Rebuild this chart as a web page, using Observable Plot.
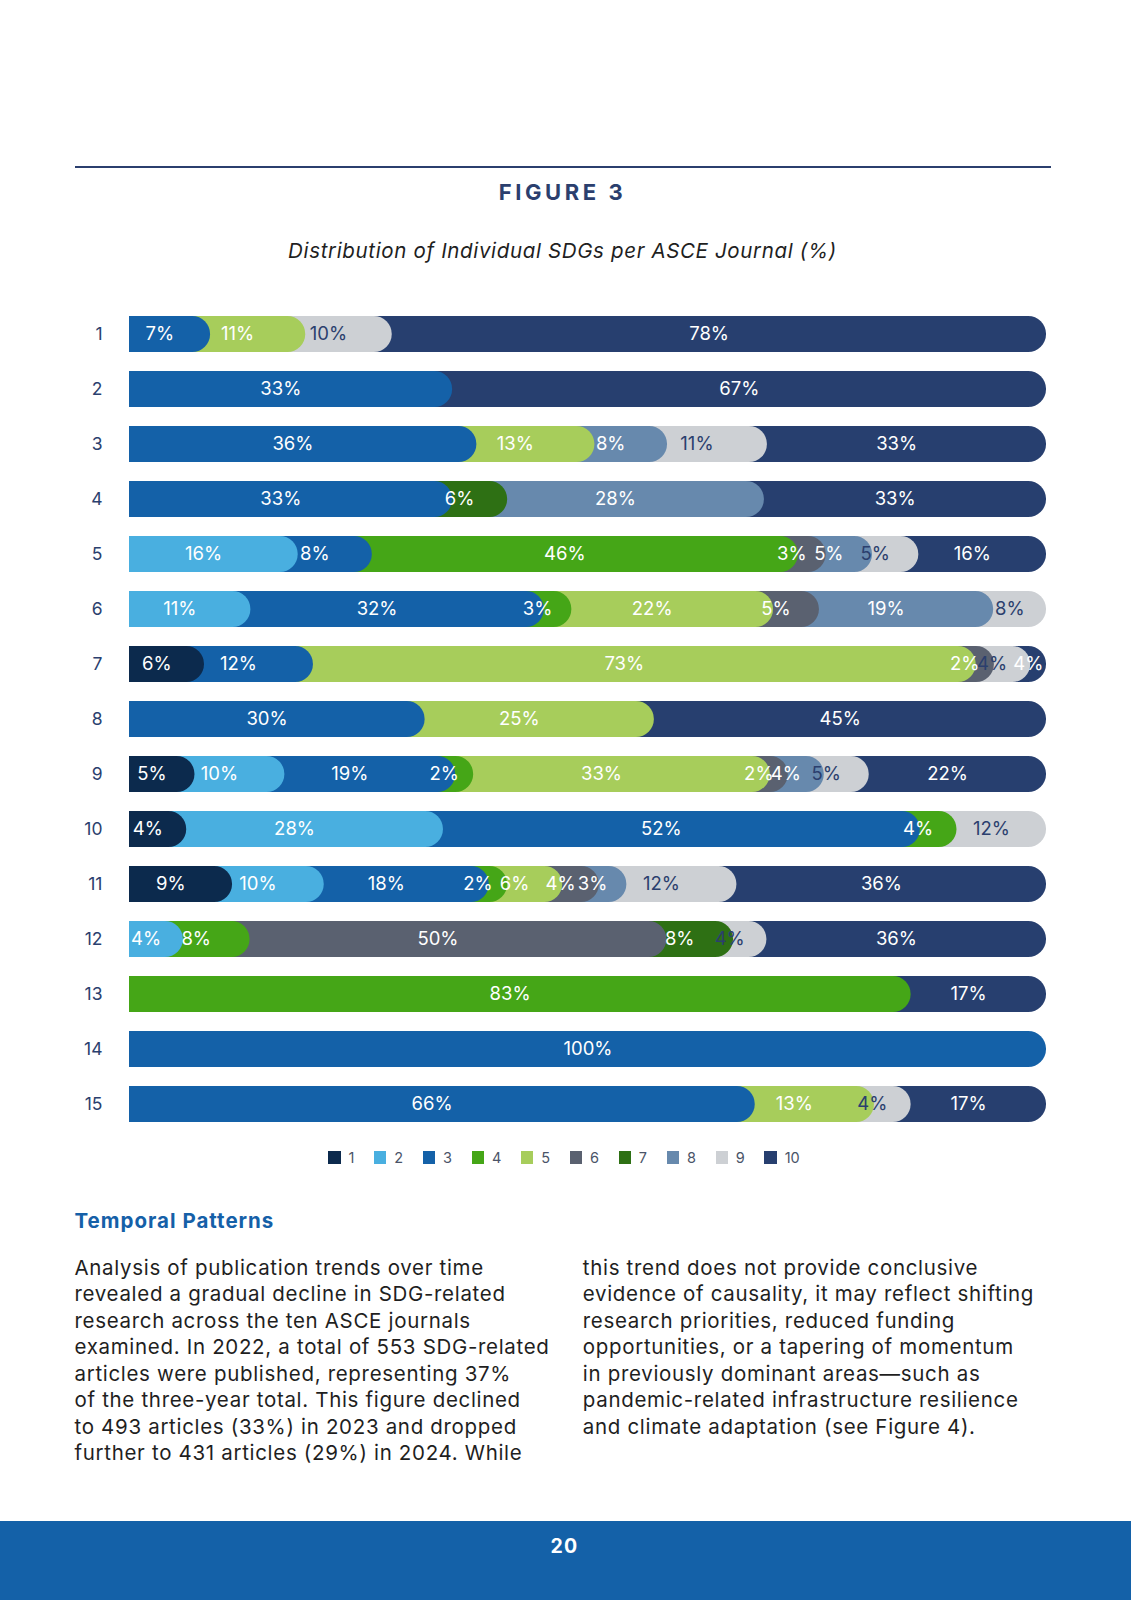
<!DOCTYPE html>
<html>
<head>
<meta charset="utf-8">
<script src="https://cdn.jsdelivr.net/npm/d3@7"></script>
<script src="https://cdn.jsdelivr.net/npm/@observablehq/plot@0.6"></script>
<style>
  html, body { margin: 0; padding: 0; background: #fff; }
  body { width: 1131px; height: 1600px; position: relative; overflow: hidden; font-family: Inter, "Noto Sans", sans-serif; }
  .abs { position: absolute; }
  #rule { left: 74.5px; top: 165.5px; width: 976px; height: 2px; background: #2b3f6e; }
  #fig { left: 74.5px; width: 976px; top: 180px; text-align: center; font-weight: 700; font-size: 22px; letter-spacing: 3.6px; color: #2b3f6e; line-height: 24px; }
  #sub { left: 74.5px; width: 976px; top: 238px; text-align: center; font-style: italic; font-size: 20.5px; letter-spacing: 0.65px; color: #1f1f1f; line-height: 26px; }
  #chart { left: 0; top: 296px; }
  #legend { left: 76px; width: 976px; top: 1148px; display: flex; justify-content: center; gap: 19.6px; font-size: 14.5px; color: #4a5468; line-height: 19px; }
  #legend .item { display: flex; align-items: center; gap: 8px; }
  #legend .sw { width: 12.3px; height: 12.3px; display: inline-block; }
  #head2 { left: 74.5px; top: 1207.8px; font-weight: 700; font-size: 20.5px; letter-spacing: 1px; color: #1560a8; line-height: 26px; }
  .col { top: 1254.5px; font-size: 20.5px; letter-spacing: 0.68px; line-height: 26.5px; color: #1f1f1f; white-space: nowrap; }
  #colL { left: 74.5px; }
  #colR { left: 582.8px; }
  #footer { left: 0; top: 1521px; width: 1131px; height: 79px; background: #1461a8; }
  #pnum { left: 0; width: 1129px; top: 1534.4px; text-align: center; font-weight: 700; font-size: 19.5px; color: #fff; line-height: 24px; letter-spacing: 1.2px; }
</style>
</head>
<body>
<div id="rule" class="abs"></div>
<div id="fig" class="abs">FIGURE 3</div>
<div id="sub" class="abs">Distribution of Individual SDGs per ASCE Journal (%)</div>
<div id="chart" class="abs"></div>
<div id="legend" class="abs"></div>
<div id="head2" class="abs">Temporal Patterns</div>
<div id="colL" class="abs col">Analysis of publication trends over time<br>revealed a gradual decline in SDG-related<br>research across the ten ASCE journals<br>examined. In 2022, a total of 553 SDG-related<br>articles were published, representing 37%<br>of the three-year total. This figure declined<br>to 493 articles (33%) in 2023 and dropped<br>further to 431 articles (29%) in 2024. While</div>
<div id="colR" class="abs col">this trend does not provide conclusive<br>evidence of causality, it may reflect shifting<br>research priorities, reduced funding<br>opportunities, or a tapering of momentum<br>in previously dominant areas—such as<br>pandemic-related infrastructure resilience<br>and climate adaptation (see Figure 4).</div>
<div id="footer" class="abs"></div>
<div id="pnum" class="abs">20</div>
<script>
// Journals (rows) and SDG categories (series)
const journals = ["1","2","3","4","5","6","7","8","9","10","11","12","13","14","15"];
const sdgs = ["1","2","3","4","5","6","7","8","9","10"];
const sdgColors = ["#0c2a4d","#49afe0","#1461a8","#45a617","#a7cd5b","#5a6170","#2e7014","#6789ad","#cdd0d4","#273f6f"];

// Percent share of each SDG per journal (0 = not present), journals 1..15
const sdg1  = [0, 0, 0, 0, 0, 0, 6, 0, 5, 4, 9, 0, 0, 0, 0];
const sdg2  = [0, 0, 0, 0,16,11, 0, 0,10,28,10, 4, 0, 0, 0];
const sdg3  = [7,33,36,33, 8,32,12,30,19,52,18, 0, 0,100,66];
const sdg4  = [0, 0, 0, 0,46, 3, 0, 0, 2, 4, 2, 8,83, 0, 0];
const sdg5  = [11,0,13, 0, 0,22,73,25,33, 0, 6, 0, 0, 0,13];
const sdg6  = [0, 0, 0, 0, 3, 5, 2, 0, 2, 0, 4,50, 0, 0, 0];
const sdg7  = [0, 0, 0, 6, 0, 0, 0, 0, 0, 0, 0, 8, 0, 0, 0];
const sdg8  = [0, 0, 8,28, 5,19, 0, 0, 4, 0, 3, 0, 0, 0, 0];
const sdg9  = [10,0,11, 0, 5, 8, 4, 0, 5,12,12, 4, 0, 0, 4];
const sdg10 = [78,67,33,33,16, 0, 4,45,22, 0,36,36,17, 0,17];
const series = [sdg1, sdg2, sdg3, sdg4, sdg5, sdg6, sdg7, sdg8, sdg9, sdg10];

// Build a stacked table (normalized to 100 per journal)
const table = [];
journals.forEach((j, i) => {
  const present = sdgs.map((s, k) => ({sdg: s, k, value: series[k][i]})).filter(d => d.value > 0);
  const total = d3.sum(present, d => d.value);
  let acc = 0;
  present.forEach((d, idx) => {
    const x1 = acc / total * 100;
    acc += d.value;
    const x2 = acc / total * 100;
    table.push({journal: j, sdg: d.sdg, k: d.k, value: d.value, x1, x2, last: idx === present.length - 1});
  });
});
// later series drawn first so earlier segments' rounded ends sit on top
const drawOrder = table.slice().sort((a, b) => b.k - a.k);
const lastSegs = drawOrder.filter(d => d.last);
const innerSegs = drawOrder.filter(d => !d.last);

const navy = "#2b3f6e";
const r = 17.8;

const plot = Plot.plot({
  width: 1131,
  height: 845,
  marginLeft: 129,
  marginRight: 85,
  marginTop: 10,
  marginBottom: 10,
  style: {fontFamily: "Inter, 'Noto Sans', sans-serif", background: "transparent", color: navy},
  x: {domain: [0, 100], axis: null},
  y: {domain: journals, paddingInner: 0.35, paddingOuter: 0.175, axis: null},
  color: {domain: sdgs, range: sdgColors},
  marks: [
    Plot.barX(lastSegs, {x1: "x1", x2: "x2", y: "journal", fill: "sdg", rx: r, insetLeft: -46, clip: true}),
    Plot.barX(innerSegs, {x1: "x1", x2: "x2", y: "journal", fill: "sdg", rx: r, insetLeft: -46, insetRight: -20.5, clip: true}),
    Plot.text(table, {
      x: d => (d.x1 + d.x2) / 2,
      y: "journal",
      text: d => d.value + "%",
      fill: d => d.sdg === "9" ? navy : "#ffffff",
      fontSize: 18.5
    }),
    Plot.axisY({tickSize: 0, tickPadding: 27, fontSize: 17.5, fill: navy, textAnchor: "end", label: null})
  ]
});
document.getElementById("chart").appendChild(plot);

// Legend
const legend = document.getElementById("legend");
sdgs.forEach((s, k) => {
  const item = document.createElement("div");
  item.className = "item";
  const sw = document.createElement("span");
  sw.className = "sw";
  sw.style.background = sdgColors[k];
  const lab = document.createElement("span");
  lab.textContent = s;
  item.appendChild(sw);
  item.appendChild(lab);
  legend.appendChild(item);
});
</script>
</body>
</html>
